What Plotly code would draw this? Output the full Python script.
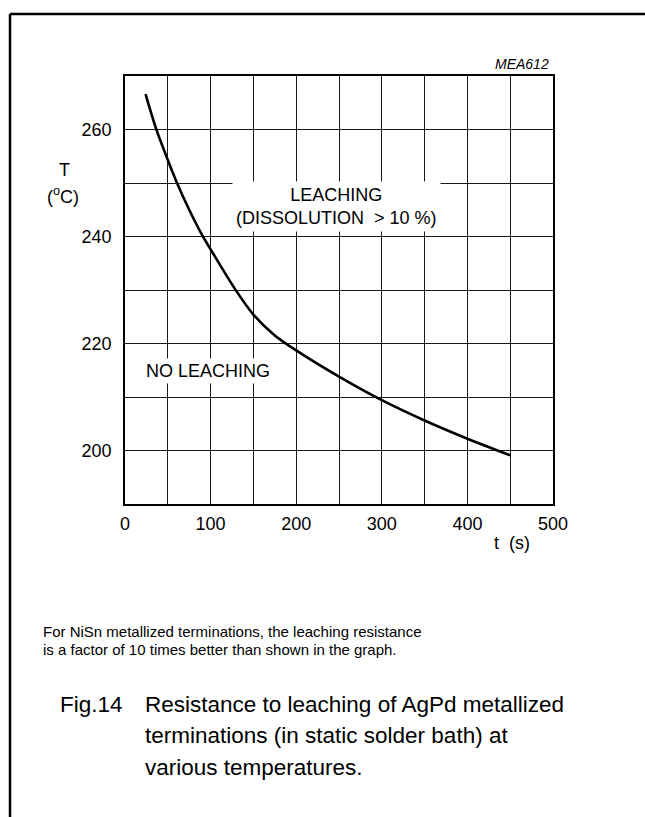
import plotly.graph_objects as go

# ---- data ----
t_s = [24, 36, 50, 60, 75, 90, 100, 128, 150, 175, 200, 250, 300, 350, 400, 450]
temp_c = [266.6, 260.3, 254.3, 250.3, 245.0, 240.3, 237.6, 230.3, 225.4, 221.5,
          218.7, 213.8, 209.4, 205.6, 202.2, 199.1]
x_ticks = [0, 100, 200, 300, 400, 500]
y_ticks = [200, 220, 240, 260]

W, H = 645, 817
L, R, T, B = 125, 553, 76, 504   # plot area in pixels
FONT = "Liberation Sans, Arial, Helvetica, sans-serif"


def px(xp):
    return (xp - L) / (R - L)


def py(yp):
    return (B - yp) / (B - T)


fig = go.Figure()
fig.add_trace(go.Scatter(
    x=t_s, y=temp_c, mode="lines",
    line=dict(color="black", width=2.6, shape="spline", smoothing=0.8),
    hoverinfo="skip", showlegend=False))

grid = "#1a1a1a"
fig.update_xaxes(
    range=[0, 500], tickvals=x_ticks, ticks="", showgrid=True, gridcolor=grid, gridwidth=1,
    minor=dict(dtick=50, tick0=0, showgrid=True, gridcolor=grid, gridwidth=1),
    showline=True, mirror=True, linecolor="black", linewidth=1.5, zeroline=False,
    tickfont=dict(size=18, color="black", family=FONT), ticklabelstandoff=3)
fig.update_yaxes(
    range=[190, 270], tickvals=y_ticks, ticks="", showgrid=True, gridcolor=grid, gridwidth=1,
    minor=dict(dtick=10, tick0=190, showgrid=True, gridcolor=grid, gridwidth=1),
    showline=True, mirror=True, linecolor="black", linewidth=1.5, zeroline=False,
    tickfont=dict(size=18, color="black", family=FONT), ticklabelstandoff=8)

ann = []


def add(text, x, y, size, xanchor="center", yanchor="middle", ref="paper", **kw):
    d = dict(text=text, x=x, y=y, xref=ref, yref=ref, showarrow=False,
             xanchor=xanchor, yanchor=yanchor,
             font=dict(size=size, color="black", family=FONT))
    d.update(kw)
    ann.append(d)


# axis titles
add("T", px(64), py(170), 18)
add("(<sup>o</sup>C)", px(63), py(195), 18)
add("t  (s)", px(512), py(543), 18)
add("<i>MEA612</i>", px(551), py(64), 14, xanchor="right")

# region labels with white background
add("LEACHING<br>(DISSOLUTION  > 10 %)", 247.5, 245.6, 18, ref="x",
    bgcolor="white", borderpad=3)
ann[-1]["yref"] = "y"
add("NO LEACHING", 96.5, 214.9, 18, ref="x", bgcolor="white", borderpad=2)
ann[-1]["yref"] = "y"

# footnote
add("For NiSn metallized terminations, the leaching resistance", px(41), py(631), 15,
    xanchor="left")
add("is a factor of 10 times better than shown in the graph.", px(41), py(649), 15,
    xanchor="left")

# caption
add("Fig.14", px(58), py(704), 22.5, xanchor="left")
add("Resistance to leaching of AgPd metallized", px(143), py(704), 22.5, xanchor="left")
add("terminations (in static solder bath) at", px(143), py(736), 22.5, xanchor="left")
add("various temperatures.", px(143), py(768), 22.5, xanchor="left")

fig.update_layout(annotations=ann)

# page frame
fig.add_shape(type="line", xref="paper", yref="paper",
              x0=px(10), y0=py(14), x1=px(650), y1=py(14),
              line=dict(color="black", width=2.5))
fig.add_shape(type="line", xref="paper", yref="paper",
              x0=px(10), y0=py(14), x1=px(10), y1=py(822),
              line=dict(color="black", width=2.5))

fig.update_layout(
    width=W, height=H, autosize=False,
    margin=dict(l=L, r=W - R, t=T, b=H - B, pad=0),
    paper_bgcolor="white", plot_bgcolor="white",
    font=dict(family=FONT, color="black"),
    showlegend=False)

fig.write_html("out.html", config={"displayModeBar": False})
